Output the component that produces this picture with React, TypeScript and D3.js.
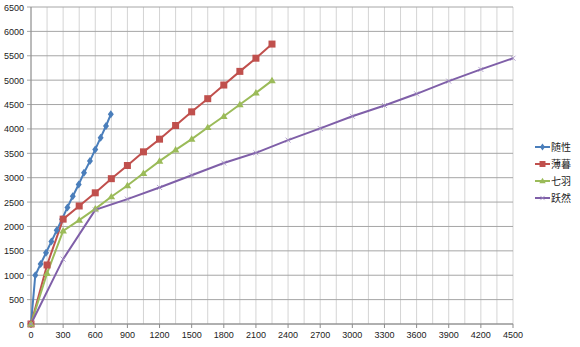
import React from "react";
import * as d3 from "d3";

const seriesNames = ["随性", "薄暮", "七羽", "跃然"];
const colors = ["#4a7ebb", "#c0504d", "#9bbb59", "#7f5fa8"];

const suixingX = [0, 40, 90, 140, 190, 240, 290, 340, 390, 445, 495, 550, 600, 650, 700, 745];
const suixingY = [0, 1000, 1230, 1460, 1690, 1920, 2150, 2390, 2620, 2860, 3100, 3340, 3580, 3820, 4060, 4300];

const bomuX = [0, 150, 300, 450, 600, 750, 900, 1050, 1200, 1350, 1500, 1650, 1800, 1950, 2100, 2250];
const bomuY = [0, 1210, 2150, 2420, 2690, 2980, 3250, 3530, 3790, 4070, 4350, 4620, 4900, 5180, 5450, 5740];

const qiyuX = [0, 150, 300, 450, 600, 750, 900, 1050, 1200, 1350, 1500, 1650, 1800, 1950, 2100, 2250];
const qiyuY = [0, 1040, 1910, 2130, 2360, 2610, 2840, 3090, 3340, 3570, 3790, 4030, 4260, 4500, 4740, 4990];

const yueranX = [0, 300, 600, 900, 1200, 1500, 1800, 2100, 2400, 2700, 3000, 3300, 3600, 3900, 4200, 4500];
const yueranY = [0, 1330, 2340, 2560, 2800, 3050, 3300, 3510, 3770, 4010, 4260, 4480, 4720, 4980, 5220, 5450];

const xTicks = d3.range(0, 4501, 300);
const yTicks = d3.range(0, 6501, 500);
const xMinorGrid = d3.range(0, 4501, 150);

export default function App() {
  const W = 580, H = 347;
  const x = d3.scaleLinear().domain([0, 4500]).range([31, 513]);
  const y = d3.scaleLinear().domain([0, 6500]).range([324, 7]);
  const line = d3.line<[number, number]>().x(d => x(d[0])).y(d => y(d[1]));

  const series = [
    { xs: suixingX, ys: suixingY },
    { xs: bomuX, ys: bomuY },
    { xs: qiyuX, ys: qiyuY },
    { xs: yueranX, ys: yueranY },
  ].map(s => s.xs.map((v, i) => [v, s.ys[i]] as [number, number]));

  const marker = (k: number, cx: number, cy: number, key: string, scale = 1) => {
    const c = colors[k];
    if (k === 0) {
      const r = 4 * scale;
      return <path key={key} d={`M${cx},${cy - r}L${cx + r * 0.75},${cy}L${cx},${cy + r}L${cx - r * 0.75},${cy}Z`} fill={c} />;
    }
    if (k === 1) {
      const r = 3.5 * scale;
      return <rect key={key} x={cx - r} y={cy - r} width={2 * r} height={2 * r} fill={c} />;
    }
    if (k === 2) {
      const r = 3.8 * scale;
      return <path key={key} d={`M${cx},${cy - r}L${cx + r},${cy + r * 0.7}L${cx - r},${cy + r * 0.7}Z`} fill={c} />;
    }
    const r = 2.5 * scale;
    return <path key={key} d={`M${cx - r},${cy - r}L${cx + r},${cy + r}M${cx + r},${cy - r}L${cx - r},${cy + r}`} stroke="#a08cc0" strokeWidth={0.8} fill="none" />;
  };

  return (
    <svg width={W} height={H} style={{ position: "absolute", left: 0, top: 0, background: "#fff" }}
      fontFamily="'Liberation Sans', Arial, sans-serif">
      <rect x={0} y={0} width={W} height={H} fill="#fff" />
      {xMinorGrid.map(v => (
        <line key={"vg" + v} x1={x(v)} x2={x(v)} y1={y(6500)} y2={y(0)} stroke="#d4d4d4" strokeWidth={1} />
      ))}
      {yTicks.map(v => (
        <line key={"hg" + v} x1={x(0) - 4} x2={x(4500)} y1={y(v)} y2={y(v)} stroke="#a6a6a6" strokeWidth={1} />
      ))}
      <line x1={x(0)} x2={x(0)} y1={y(6500)} y2={y(0)} stroke="#8c8c8c" />
      <line x1={x(0)} x2={x(4500)} y1={y(0)} y2={y(0)} stroke="#8c8c8c" />
      {xTicks.map(v => (
        <line key={"xt" + v} x1={x(v)} x2={x(v)} y1={y(0)} y2={y(0) + 4} stroke="#8c8c8c" />
      ))}
      {yTicks.map(v => (
        <text key={"yl" + v} x={24} y={y(v) + 3.5} fontSize={9} textAnchor="end" fill="#222">{v}</text>
      ))}
      {xTicks.map(v => (
        <text key={"xl" + v} x={x(v)} y={338} fontSize={9} textAnchor="middle" fill="#222">{v}</text>
      ))}
      {series.map((pts, k) => (
        <path key={"l" + k} d={line(pts) || ""} fill="none" stroke={colors[k]} strokeWidth={2} />
      ))}
      {series.map((pts, k) => pts.map((p, i) => marker(k, x(p[0]), y(p[1]), `m${k}-${i}`)))}
      {seriesNames.map((n, k) => {
        const ly = 147 + k * 17;
        return (
          <g key={"lg" + k}>
            <line x1={535} x2={550} y1={ly} y2={ly} stroke={colors[k]} strokeWidth={2} />
            {marker(k, 542.5, ly, "lm" + k, 0.85)}
            <text x={551} y={ly + 3.5} fontSize={10} fill="#222" fontFamily="'Noto Sans CJK SC', sans-serif">{n}</text>
          </g>
        );
      })}
    </svg>
  );
}
